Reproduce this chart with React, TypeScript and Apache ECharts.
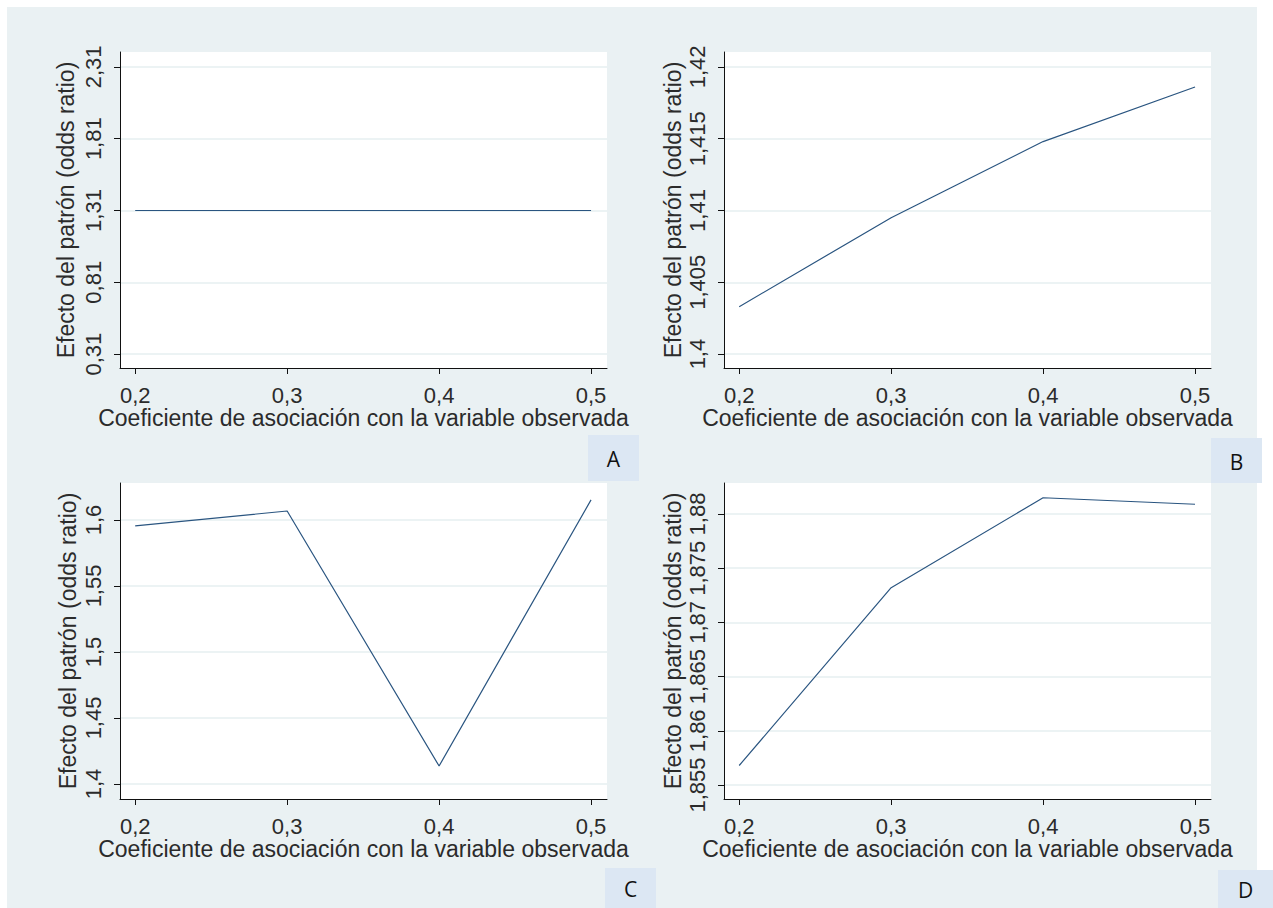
import React, { useEffect, useRef } from "react";
import * as echarts from "echarts";

// ---- data ----
const xValues = [0.2, 0.3, 0.4, 0.5];
const xTicks = [0.2, 0.3, 0.4, 0.5];
const seriesA = [1.31, 1.31, 1.31, 1.31];
const seriesB = [1.4033, 1.4095, 1.4148, 1.4186];
const seriesC = [1.5955, 1.6068, 1.4136, 1.6152];
const seriesD = [1.8568, 1.8732, 1.8815, 1.8809];
const yTicksA = [0.31, 0.81, 1.31, 1.81, 2.31];
const yTicksB = [1.4, 1.405, 1.41, 1.415, 1.42];
const yTicksC = [1.4, 1.45, 1.5, 1.55, 1.6];
const yTicksD = [1.855, 1.86, 1.865, 1.87, 1.875, 1.88];
const panelLetters = ["A", "B", "C", "D"];
const xTitle = "Coeficiente de asociación con la variable observada";
const yTitle = "Efecto del patrón (odds ratio)";

const BG = "#eaf1f3";
const BOX = "#dce7f3";
const LINE = "#2a5580";
const GRIDLINE = "#e6eff1";
const TEXT = "#2b2b2b";
const FONT = "Liberation Sans";

const fmt = (v: number) => String(v).replace(".", ",");

export default function App() {
  const ref = useRef<HTMLDivElement>(null);

  useEffect(() => {
    if (!ref.current) return;
    const chart = echarts.init(ref.current, undefined, { renderer: "svg" });

    const panels = [
      { data: seriesA, ticks: yTicksA, min: 0.213, max: 2.414, left: 120, top: 52, nameGap: 43 },
      { data: seriesB, ticks: yTicksB, min: 1.39903, max: 1.42104, left: 724, top: 52, nameGap: 40 },
      { data: seriesC, ticks: yTicksC, min: 1.3886, max: 1.628, left: 120, top: 483, nameGap: 41 },
      { data: seriesD, ticks: yTicksD, min: 1.85371, max: 1.88286, left: 724, top: 483, nameGap: 40 },
    ];

    const grids = panels.map((p) => ({
      left: p.left,
      top: p.top,
      width: 487,
      height: 316,
      show: true,
      backgroundColor: "#ffffff",
      borderWidth: 0,
      containLabel: false,
    }));

    const xAxes = panels.map((p, i) => ({
      type: "value",
      gridIndex: i,
      min: 0.19,
      max: 0.5105,
      name: xTitle,
      nameLocation: "middle",
      nameGap: 38,
      nameTextStyle: { fontFamily: FONT, fontSize: 23, color: TEXT },
      axisLine: { show: true, onZero: false, lineStyle: { color: "#111", width: 1 } },
      axisTick: { show: true, length: 6, inside: false, customValues: xTicks, lineStyle: { color: "#111" } },
      axisLabel: {
        show: true,
        customValues: xTicks,
        formatter: fmt,
        margin: 16,
        fontFamily: FONT,
        fontSize: 22,
        color: TEXT,
      },
      splitLine: { show: false },
    }));

    const yAxes = panels.map((p, i) => ({
      type: "value",
      gridIndex: i,
      min: p.min,
      max: p.max,
      name: yTitle,
      nameLocation: "middle",
      nameGap: p.nameGap,
      nameRotate: 90,
      nameTextStyle: { fontFamily: FONT, fontSize: 23, color: TEXT },
      axisLine: { show: true, onZero: false, lineStyle: { color: "#111", width: 1 } },
      axisTick: { show: true, length: 6, inside: false, customValues: p.ticks, lineStyle: { color: "#111" } },
      axisLabel: {
        show: true,
        customValues: p.ticks,
        formatter: fmt,
        rotate: 90,
        margin: 16,
        fontFamily: FONT,
        fontSize: 22,
        color: TEXT,
      },
      splitLine: { show: true, lineStyle: { color: GRIDLINE, width: 1.5 } },
    }));

    const series = panels.map((p, i) => ({
      type: "line",
      xAxisIndex: i,
      yAxisIndex: i,
      symbol: "none",
      lineStyle: { color: LINE, width: 1.2 },
      data: xValues.map((x, k) => [x, p.data[k]]),
    }));

    const boxes = [
      { x: 588, y: 435, w: 51, h: 46 },
      { x: 1211, y: 438, w: 51, h: 45 },
      { x: 605, y: 868, w: 51, h: 40 },
      { x: 1218, y: 870, w: 55, h: 38 },
    ];

    const graphic: any[] = [
      { type: "rect", z: -100, shape: { x: 7, y: 7, width: 1250, height: 901 }, style: { fill: BG } },
    ];
    boxes.forEach((b, i) => {
      graphic.push({ type: "rect", z: 10, shape: { x: b.x, y: b.y, width: b.w, height: b.h }, style: { fill: BOX } });
      graphic.push({
        type: "text",
        z: 11,
        x: b.x + b.w / 2,
        y: b.y + b.h / 2 + 1,
        style: {
          text: panelLetters[i],
          fill: "#111",
          fontFamily: "Open Sans",
          fontSize: 21,
          align: "center",
          verticalAlign: "middle",
        },
      });
    });

    chart.setOption({
      animation: false,
      backgroundColor: "#ffffff",
      grid: grids,
      xAxis: xAxes,
      yAxis: yAxes,
      series,
      graphic,
    } as any);

    return () => chart.dispose();
  }, []);

  return (
    <div
      ref={ref}
      style={{ position: "absolute", left: 0, top: 0, width: 1273, height: 908 }}
    />
  );
}
